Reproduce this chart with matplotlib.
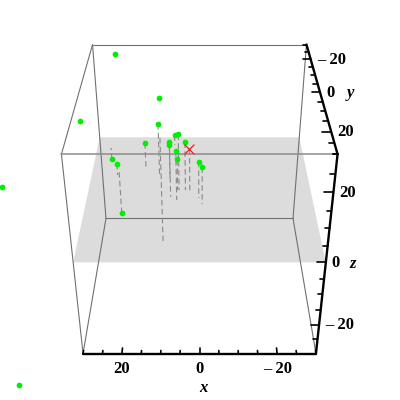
import matplotlib
matplotlib.use('Agg')
import matplotlib.pyplot as plt
import numpy as np

# Data (x, y, z of the points, z = 0 plane is the grey sheet)
point_x = [15.1, 11.1, 8.9, 26.0, 22.8, 22.5, 7.7, 8.1, 7.3, 5.5, 6.05, 5.9, 3.8, 0.2, -0.7,
           25.0, 32.1, 52.9, 46.3]
point_y = [-12.5, -8.8, 22.8, -23.7, -8.8, -10.4, 2.0, -6.2, -25.4, -1.2, 3.6, -1.2, -1.2, 2.65, 5.5,
           -40.0, -10.0, 0.0, 35.0]
point_z = [8.1, 16.2, 40.0, -3.8, 3.6, -14.1, 17.0, 11.1, 3.3, 17.3, 15.05, 9.7, 14.9, 11.4, 11.4,
           22.7, 16.5, 1.8, -36.1]
cross_x = [2.6]
cross_y = [0.24]
cross_z = [13.7]

box_lo, box_hi = -30, 30
tick_values = np.arange(-30, 31, 5)
major_ticks = [-20, 0, 20]
tick_names = {-20: '\u2013 20', 0: '0', 20: '20'}
x_tick_names = {20: '20', 0: '0', -20: '\u2013 20'}


def project(x, y, z):
    # perspective camera fitted to the box corners
    x, y, z = np.asarray(x, float), np.asarray(y, float), np.asarray(z, float)
    w = 1 - 0.003914 * y - 0.002497 * z
    return 199.5 - 3.717 * x / w, (192.5 + 1.302 * y - 3.567 * z) / w


def line3d(ax, a, b, **kw):
    sx, sy = project([a[0], b[0]], [a[1], b[1]], [a[2], b[2]])
    ax.plot(sx, sy, solid_capstyle='round', **kw)


plt.rcParams['font.family'] = ['Liberation Serif', 'DejaVu Serif']
fig = plt.figure(figsize=(4, 4), dpi=100)
ax = fig.add_axes([0, 0, 1, 1])
ax.set_xlim(0, 400)
ax.set_ylim(400, 0)
ax.axis('off')

# z = 0 plane
px, py = project([box_lo, box_hi, box_hi, box_lo], [box_lo, box_lo, box_hi, box_hi], [0, 0, 0, 0])
ax.fill(px, py, color='#dcdcdc', lw=0, zorder=1)

# thin box edges
lo, hi = box_lo, box_hi
edges = [((lo, lo, lo), (hi, lo, lo)), ((lo, lo, hi), (hi, lo, hi)),
         ((lo, lo, lo), (lo, lo, hi)), ((hi, lo, lo), (hi, lo, hi)),
         ((hi, lo, lo), (hi, hi, lo)), ((lo, lo, lo), (lo, hi, lo)),
         ((hi, lo, hi), (hi, hi, hi)), ((hi, hi, lo), (hi, hi, hi))]
for a, b in edges:
    line3d(ax, a, b, color='#707070', lw=0.8, zorder=2)
line3d(ax, (lo, hi, hi), (hi, hi, hi), color='#8c8c8c', lw=1.1, zorder=2)

# drop lines to the plane, clipped to the box
all_x = point_x + cross_x
all_y = point_y + cross_y
all_z = point_z + cross_z
for x, y, z in zip(all_x, all_y, all_z):
    if abs(x) > box_hi or abs(y) > box_hi:
        continue
    top = np.clip(z, box_lo, box_hi)
    sx, sy = project([x, x], [y, y], [top, 0])
    ax.plot(sx, sy, color='#8a8a8a', lw=0.8, ls=(0, (5, 3)), zorder=3)

# points, outside the box too
sx, sy = project(point_x, point_y, point_z)
ax.scatter(sx, sy, s=17, color='#00ee00', lw=0, zorder=4, clip_on=False)
sx, sy = project(cross_x, cross_y, cross_z)
ax.scatter(sx, sy, s=50, marker='x', color='#f02020', lw=0.9, zorder=5)

# thick axes
line3d(ax, (lo, hi, lo), (hi, hi, lo), color='black', lw=1.7, zorder=6)
line3d(ax, (lo, lo, hi), (lo, hi, hi), color='black', lw=1.7, zorder=6)
line3d(ax, (lo, hi, lo), (lo, hi, hi), color='black', lw=1.7, zorder=6)

label_style = dict(fontsize=12, fontweight='bold', color='black', zorder=7)
for t in tick_values:
    size = 2.0 if t in major_ticks else 1.1
    line3d(ax, (t, hi, lo), (t, hi - size, lo), color='black', lw=1.2, zorder=6)
    line3d(ax, (lo, t, hi), (lo + size, t, hi), color='black', lw=1.2, zorder=6)
    line3d(ax, (lo, hi, t), (lo + size, hi, t), color='black', lw=1.2, zorder=6)
    if t in major_ticks:
        sx, sy = project(t, hi, lo)
        ax.text(sx, sy + 15.5, x_tick_names[t], ha='center', va='center', **label_style)
        sx, sy = project(lo, t, hi)
        ax.text(sx + 6, sy + 0.5, tick_names[t], ha='left', va='center', **label_style)
        sx, sy = project(lo, hi, t)
        ax.text(sx + 6, sy + 0.5, tick_names[t], ha='left', va='center', **label_style)

name_style = dict(fontsize=12, fontweight='bold', fontstyle='italic', ha='center', va='center', zorder=7)
ax.text(203, 388, 'x', **name_style)
ax.text(350, 93, 'y', **name_style)
ax.text(353, 264, 'z', **name_style)

fig.savefig('out.png', dpi=100)
